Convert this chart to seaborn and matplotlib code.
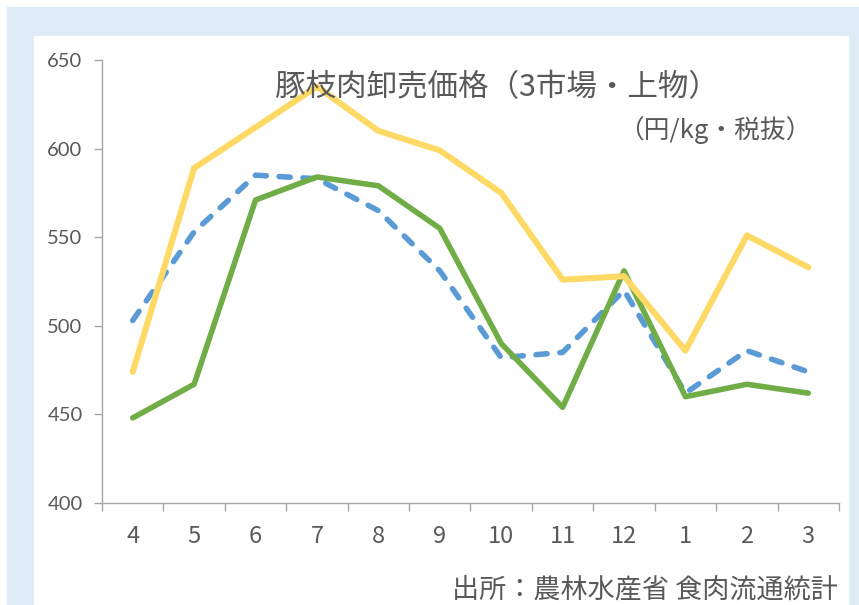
import pandas as pd
from matplotlib import pyplot as plt
from matplotlib.patches import Rectangle
import seaborn as sns

months = ["4", "5", "6", "7", "8", "9", "10", "11", "12", "1", "2", "3"]
yellow_vals = [474, 589, 612, 635, 610, 599, 575, 526, 528, 486, 551, 533]
blue_vals = [503, 553, 585, 583, 565, 531, 482, 485, 520, 462, 486, 474]
green_vals = [448, 467, 571, 584, 579, 555, 490, 454, 531, 460, 467, 462]
series_names = ["yellow", "blue", "green"]

title = "豚枝肉卸売価格（3市場・上物）"
unit = "（円/kg・税抜）"
source = "出所：農林水産省 食肉流通統計"

df = pd.concat([
    pd.DataFrame({"month": months, "price": yellow_vals, "series": "yellow"}),
    pd.DataFrame({"month": months, "price": blue_vals, "series": "blue"}),
    pd.DataFrame({"month": months, "price": green_vals, "series": "green"}),
]).reset_index(drop=True)

sns.set_theme(style="ticks")
plt.rcParams["font.family"] = ["Noto Sans CJK JP", "DejaVu Sans"]

fig = plt.figure(figsize=(8.59, 6.05), dpi=100)
# light blue frame with white panel
fig.patches.append(Rectangle((7 / 859, 0), 852 / 859, 598 / 605,
                             transform=fig.transFigure, color="#DEEAF6", zorder=-3))
fig.patches.append(Rectangle((34 / 859, 0), 814 / 859, 569 / 605,
                             transform=fig.transFigure, color="white", zorder=-2))

ax = fig.add_axes([102 / 859, 1 - 503 / 605, 737 / 859, 443 / 605])
ax.set_facecolor("none")

palette = {"yellow": "#FFD966", "blue": "#5B9BD5", "green": "#70AD47"}
dashes = {"yellow": "", "blue": (2.0, 2.3), "green": ""}
sns.lineplot(
    data=df, x="month", y="price", hue="series", style="series",
    palette=palette, dashes=dashes, hue_order=series_names, style_order=series_names,
    linewidth=4.0, legend=False, ax=ax, sort=False,
    solid_capstyle="round", dash_capstyle="round",
)
# draw order: blue at the back, then green, yellow on top
for line in ax.lines:
    c = line.get_color().lower()
    if c == "#ffd966":
        line.set_zorder(4)
        line.set_linewidth(4.4)
    elif c == "#70ad47":
        line.set_zorder(3)
    else:
        line.set_zorder(2)

ax.set_ylim(400, 650)
ax.set_yticks([400, 450, 500, 550, 600, 650])
ax.set_xlim(-0.5, 11.5)
ax.set_xticks(range(len(months)))
ax.set_xticklabels(months)
ax.set_xlabel("")
ax.set_ylabel("")

# category tick marks sit between months
ax.set_xticks([i - 0.5 for i in range(len(months) + 1)], minor=True)
ax.tick_params(axis="x", which="major", length=0, pad=16, labelsize=17, labelcolor="#595959")
ax.tick_params(axis="x", which="minor", length=6, width=1, color="#A6A6A6")
ax.tick_params(axis="y", length=6, width=1, color="#A6A6A6", pad=8, labelcolor="#595959")
for lbl in ax.get_yticklabels():
    lbl.set_family(["Lato", "DejaVu Sans"])
    lbl.set_fontsize(14.5)

sns.despine(ax=ax)
for side in ["left", "bottom"]:
    ax.spines[side].set_color("#A6A6A6")
    ax.spines[side].set_linewidth(1)

fig.text(497 / 859, 1 - 88 / 605, title, ha="center", va="center",
         fontsize=22, color="#595959")
fig.text(715 / 859, 1 - 130 / 605, unit, ha="center", va="center",
         fontsize=18.5, color="#595959")
fig.text(838 / 859, 1 - 590 / 605, source, ha="right", va="center",
         fontsize=19.5, color="#595959")

plt.savefig("out.png", dpi=100)
